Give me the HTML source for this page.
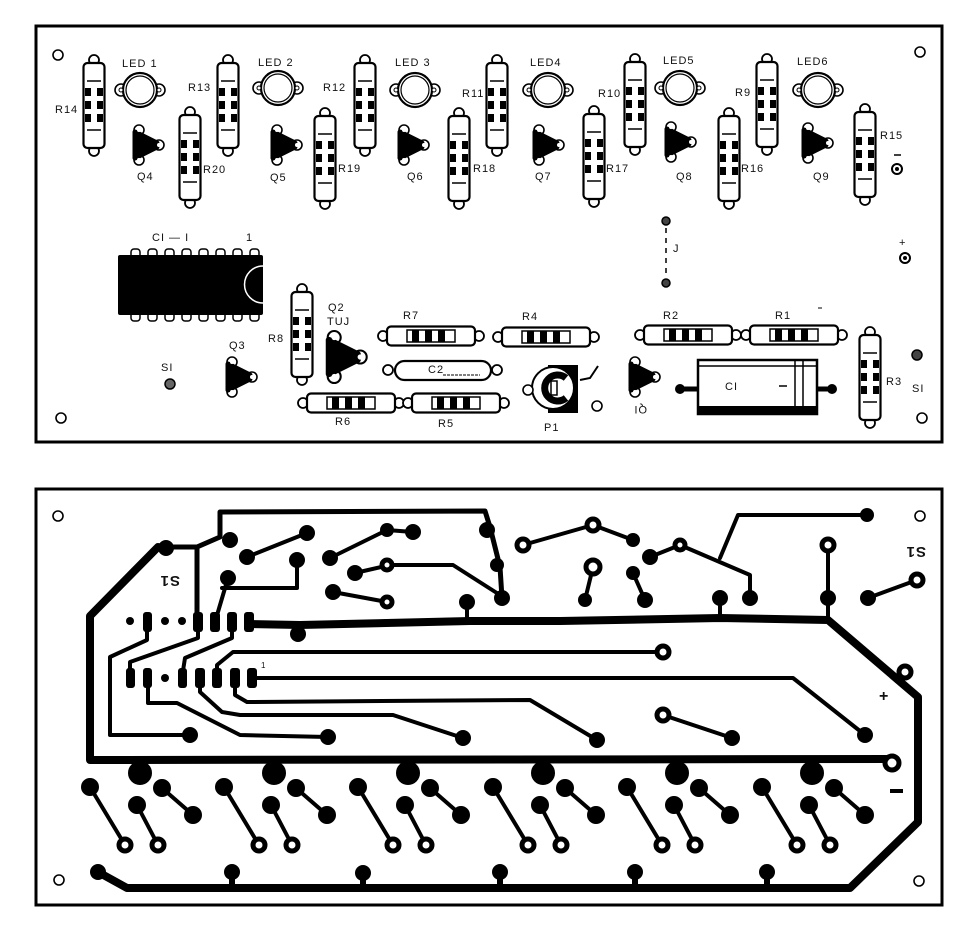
<!DOCTYPE html>
<html><head><meta charset="utf-8"><style>
html,body{margin:0;padding:0;background:#fff;}
svg{display:block}
text{font-family:"Liberation Sans",sans-serif;font-size:11px;fill:#111;letter-spacing:1px}
</style></head><body>
<svg width="968" height="932" viewBox="0 0 968 932" xmlns="http://www.w3.org/2000/svg">
<defs>
<g id="rv">
 <circle cx="0" cy="-3" r="5" fill="#fff" stroke="#000" stroke-width="1.8"/>
 <circle cx="0" cy="88" r="5" fill="#fff" stroke="#000" stroke-width="1.8"/>
 <rect x="-10.5" y="0" width="21" height="85" rx="4" fill="#fff" stroke="#000" stroke-width="2.2"/>
 <line x1="-7" y1="18" x2="7" y2="18" stroke="#000" stroke-width="1.5"/>
 <line x1="-7" y1="67" x2="7" y2="67" stroke="#000" stroke-width="1.5"/>
 <rect x="-9" y="25" width="6" height="8" fill="#000"/><rect x="3" y="25" width="6" height="8" fill="#000"/>
 <rect x="-9" y="38" width="6" height="8" fill="#000"/><rect x="3" y="38" width="6" height="8" fill="#000"/>
 <rect x="-9" y="51" width="6" height="8" fill="#000"/><rect x="3" y="51" width="6" height="8" fill="#000"/>
</g>
<g id="rh">
 <circle cx="-4" cy="0" r="5" fill="#fff" stroke="#000" stroke-width="1.8"/>
 <circle cx="92" cy="0" r="5" fill="#fff" stroke="#000" stroke-width="1.8"/>
 <rect x="0" y="-9.5" width="88" height="19" rx="4" fill="#fff" stroke="#000" stroke-width="2.2"/>
 <rect x="20" y="-6" width="48" height="12" fill="#fff" stroke="#000" stroke-width="1.5"/>
 <rect x="25" y="-6" width="7" height="12" fill="#000"/>
 <rect x="38" y="-6" width="7" height="12" fill="#000"/>
 <rect x="51" y="-6" width="7" height="12" fill="#000"/>
</g>
<g id="led">
 <circle cx="-19" cy="0" r="6" fill="#fff" stroke="#000" stroke-width="1.6"/>
 <circle cx="19" cy="0" r="6" fill="#fff" stroke="#000" stroke-width="1.6"/>
 <circle cx="0" cy="0" r="17" fill="#fff" stroke="#000" stroke-width="2.2"/>
 <circle cx="0" cy="0" r="14" fill="#fff" stroke="#000" stroke-width="1.2"/>
 <circle cx="-19" cy="0" r="2" fill="#fff" stroke="#000" stroke-width="1"/>
 <circle cx="19" cy="0" r="2" fill="#fff" stroke="#000" stroke-width="1"/>
</g>
<g id="tr">
 <circle cx="-6" cy="-15" r="5" fill="#fff" stroke="#000" stroke-width="1.6"/>
 <circle cx="-6" cy="15" r="5" fill="#fff" stroke="#000" stroke-width="1.6"/>
 <circle cx="14" cy="0" r="5" fill="#fff" stroke="#000" stroke-width="1.6"/>
 <path d="M-10,-13 L12,-2 L12,2 L-10,13 Z" fill="#000" stroke="#000" stroke-width="5" stroke-linejoin="round"/>
 <circle cx="-6" cy="-15" r="2" fill="#fff"/>
 <circle cx="-6" cy="15" r="2" fill="#fff"/>
 <circle cx="14" cy="0" r="2" fill="#fff"/>
</g>
</defs>

<!-- TOP BOARD -->
<rect x="36" y="26" width="906" height="416" fill="#fff" stroke="#000" stroke-width="3"/>
<g fill="#fff" stroke="#000" stroke-width="1.6">
<circle cx="58" cy="55" r="5"/><circle cx="920" cy="52" r="5"/><circle cx="61" cy="418" r="5"/><circle cx="922" cy="418" r="5"/>
</g>
<use href="#rv" x="94" y="63"/><use href="#rv" x="228" y="63"/><use href="#rv" x="365" y="63"/>
<use href="#rv" x="497" y="63"/><use href="#rv" x="635" y="62"/><use href="#rv" x="767" y="62"/>
<use href="#rv" x="190" y="115"/><use href="#rv" x="325" y="116"/><use href="#rv" x="459" y="116"/>
<use href="#rv" x="594" y="114"/><use href="#rv" x="729" y="116"/><use href="#rv" x="865" y="112"/>
<use href="#led" x="140" y="90"/><use href="#led" x="278" y="88"/><use href="#led" x="415" y="90"/>
<use href="#led" x="548" y="90"/><use href="#led" x="680" y="88"/><use href="#led" x="818" y="90"/>
<use href="#tr" x="145" y="145"/><use href="#tr" x="283" y="145"/><use href="#tr" x="410" y="145"/>
<use href="#tr" x="545" y="145"/><use href="#tr" x="677" y="142"/><use href="#tr" x="814" y="143"/>
<use href="#tr" x="238" y="377"/><use href="#tr" x="641" y="377"/>
<g transform="translate(342,357) scale(1.3)"><use href="#tr"/></g>
<text x="122" y="67">LED 1</text><text x="258" y="66">LED 2</text><text x="395" y="66">LED 3</text>
<text x="530" y="66">LED4</text><text x="663" y="64">LED5</text><text x="797" y="65">LED6</text>
<text x="55" y="113">R14</text><text x="188" y="91">R13</text><text x="323" y="91">R12</text><text x="462" y="97">R11</text>
<text x="598" y="97">R10</text><text x="735" y="96">R9</text>
<text x="203" y="173">R20</text><text x="338" y="172">R19</text><text x="473" y="172">R18</text>
<text x="606" y="172">R17</text><text x="741" y="172">R16</text><text x="880" y="139">R15</text>
<text x="137" y="180">Q4</text><text x="270" y="181">Q5</text><text x="407" y="180">Q6</text>
<text x="535" y="180">Q7</text><text x="676" y="180">Q8</text><text x="813" y="180">Q9</text>
<g fill="#fff" stroke="#000" stroke-width="1.5">
<rect x="131" y="249" width="9" height="10" rx="3"/><rect x="148" y="249" width="9" height="10" rx="3"/><rect x="165" y="249" width="9" height="10" rx="3"/><rect x="182" y="249" width="9" height="10" rx="3"/><rect x="199" y="249" width="9" height="10" rx="3"/><rect x="216" y="249" width="9" height="10" rx="3"/><rect x="233" y="249" width="9" height="10" rx="3"/><rect x="250" y="249" width="9" height="10" rx="3"/>
<rect x="131" y="311" width="9" height="10" rx="3"/><rect x="148" y="311" width="9" height="10" rx="3"/><rect x="165" y="311" width="9" height="10" rx="3"/><rect x="182" y="311" width="9" height="10" rx="3"/><rect x="199" y="311" width="9" height="10" rx="3"/><rect x="216" y="311" width="9" height="10" rx="3"/><rect x="233" y="311" width="9" height="10" rx="3"/><rect x="250" y="311" width="9" height="10" rx="3"/>
</g>
<rect x="118" y="255" width="145" height="60" rx="2" fill="#000"/>
<path d="M263,266 A18,18 0 0 0 263,303" fill="none" stroke="#fff" stroke-width="1.5"/>
<text x="152" y="241">CI — I</text><text x="246" y="241">1</text>
<text x="161" y="371">SI</text>
<circle cx="170" cy="384" r="5" fill="#666" stroke="#000" stroke-width="1.5"/>
<text x="229" y="349">Q3</text>
<use href="#rv" x="302" y="292"/>
<text x="268" y="342">R8</text>
<text x="328" y="311">Q2</text><text x="327" y="325">TUJ</text>
<use href="#rh" x="387" y="336"/><text x="403" y="319">R7</text>
<use href="#rh" x="502" y="337"/><text x="522" y="320">R4</text>
<use href="#rh" x="307" y="403"/><text x="335" y="425">R6</text>
<use href="#rh" x="412" y="403"/><text x="438" y="427">R5</text>
<use href="#rh" x="644" y="335"/><text x="663" y="319">R2</text>
<use href="#rh" x="750" y="335"/><text x="775" y="319">R1</text>
<circle cx="388" cy="370" r="5" fill="#fff" stroke="#000" stroke-width="1.8"/>
<circle cx="497" cy="370" r="5" fill="#fff" stroke="#000" stroke-width="1.8"/>
<rect x="395" y="361" width="96" height="19" rx="9.5" fill="#fff" stroke="#000" stroke-width="2.2"/>
<text x="428" y="373">C2</text>
<line x1="443" y1="375" x2="480" y2="375" stroke="#000" stroke-width="1" stroke-dasharray="3,1"/>
<rect x="548" y="365" width="30" height="48" fill="#000"/>
<circle cx="553" cy="388" r="21" fill="#fff" stroke="#000" stroke-width="2"/>
<path d="M566,378 A13,13 0 1 0 566,398" fill="none" stroke="#000" stroke-width="7"/>
<rect x="551" y="381" width="6" height="14" fill="#fff" stroke="#000" stroke-width="1.5"/>
<circle cx="528" cy="390" r="5" fill="#fff" stroke="#000" stroke-width="1.6"/>
<circle cx="597" cy="406" r="5" fill="#fff" stroke="#000" stroke-width="1.6"/>
<path d="M580,380 L590,378 L598,366" fill="none" stroke="#000" stroke-width="2"/>
<text x="544" y="431">P1</text>
<text x="635" y="412" transform="rotate(180 641 409)">QI</text>
<line x1="678" y1="389" x2="835" y2="389" stroke="#000" stroke-width="5"/>
<circle cx="680" cy="389" r="5" fill="#000"/><circle cx="832" cy="389" r="5" fill="#000"/>
<rect x="698" y="360" width="119" height="54" fill="#fff" stroke="#000" stroke-width="2.5"/>
<line x1="698" y1="366" x2="817" y2="366" stroke="#000" stroke-width="1.5"/>
<rect x="698" y="406" width="119" height="8" fill="#000"/>
<line x1="795" y1="360" x2="795" y2="414" stroke="#000" stroke-width="1.5"/>
<line x1="803" y1="360" x2="803" y2="414" stroke="#000" stroke-width="1.5"/>
<text x="725" y="390">CI</text><line x1="779" y1="386" x2="787" y2="386" stroke="#000" stroke-width="1.5"/>
<use href="#rv" x="870" y="335"/><text x="886" y="385">R3</text>
<circle cx="917" cy="355" r="5" fill="#444" stroke="#000" stroke-width="1.5"/>
<text x="912" y="392">SI</text>
<text x="899" y="246">+</text><circle cx="905" cy="258" r="5" fill="#fff" stroke="#000" stroke-width="2"/><circle cx="905" cy="258" r="2" fill="#000"/>
<line x1="894" y1="155" x2="901" y2="155" stroke="#000" stroke-width="1.5"/>
<circle cx="897" cy="169" r="5" fill="#fff" stroke="#000" stroke-width="2"/><circle cx="897" cy="169" r="2" fill="#000"/>
<circle cx="666" cy="221" r="4" fill="#444" stroke="#000" stroke-width="1.5"/>
<circle cx="666" cy="283" r="4" fill="#444" stroke="#000" stroke-width="1.5"/>
<line x1="666" y1="228" x2="666" y2="277" stroke="#000" stroke-width="1.5" stroke-dasharray="5,5"/>
<text x="673" y="252">J</text>
<line x1="818" y1="308" x2="822" y2="308" stroke="#000" stroke-width="1"/>

<!-- BOTTOM BOARD -->
<rect x="36" y="489" width="906" height="416" fill="#fff" stroke="#000" stroke-width="3"/>
<g fill="#fff" stroke="#000" stroke-width="1.6">
<circle cx="58" cy="516" r="5"/><circle cx="59" cy="880" r="5"/><circle cx="920" cy="516" r="5"/><circle cx="919" cy="881" r="5"/>
</g>
<g fill="none" stroke="#000" stroke-linecap="round" stroke-linejoin="round">
 <path d="M250,624 L300,625 L470,621 L560,621 L720,618 L828,620 L918,697 L918,822 L850,888 L127,888 L98,872" stroke-width="8"/>
 <path d="M232,872 L232,888 M363,873 L363,888 M500,872 L500,888 M635,872 L635,888 M767,872 L767,888" stroke-width="6"/>
 <path d="M158,547 L90,616 L90,760 L890,759" stroke-width="8"/>
 <path d="M158,547 L197,547 L220,537 L220,512 L485,511 L490,527 L500,567 L502,598" stroke-width="5"/>
 <path d="M197,547 L197,620" stroke-width="5"/>
 <path d="M130,678 L130,662 L198,638 L198,622" stroke-width="4"/>
 <path d="M147,622 L147,640 L110,657 L110,735 L190,735" stroke-width="4"/>
 <path d="M232,622 L232,638 L185,658 L182,677" stroke-width="4"/>
 <path d="M215,622 L228,578" stroke-width="4"/>
 <path d="M222,588 L297,588 L297,560" stroke-width="4"/>
 <path d="M148,678 L148,703 L177,703 L240,735 L328,737" stroke-width="4"/>
 <path d="M200,678 L200,692 L222,712 L240,715 L393,715 L463,738" stroke-width="4"/>
 <path d="M235,678 L235,695 L247,702 L530,700 L597,740" stroke-width="4"/>
 <path d="M217,678 L217,665 L233,652 L663,652" stroke-width="4"/>
 <path d="M252,678 L793,678 L865,735" stroke-width="4"/>
 <path d="M663,715 L732,738" stroke-width="4"/>
 <path d="M247,557 L307,533" stroke-width="4"/>
 <path d="M330,558 L387,530 L413,532" stroke-width="4"/>
 <path d="M355,573 L390,565 L453,565 L500,595" stroke-width="4"/>
 <path d="M333,592 L387,602" stroke-width="4"/>
 <path d="M467,602 L467,622" stroke-width="4"/>
 <path d="M523,545 L593,525 L633,540" stroke-width="4"/>
 <path d="M593,567 L585,600" stroke-width="4"/>
 <path d="M633,573 L645,600" stroke-width="4"/>
 <path d="M650,557 L680,545 L750,575 L750,598" stroke-width="4"/>
 <path d="M720,558 L738,515 L867,515" stroke-width="4"/>
 <path d="M828,545 L828,620" stroke-width="4"/>
 <path d="M720,598 L720,618" stroke-width="4"/>
 <path d="M868,598 L917,580" stroke-width="4"/>
</g>
<g id="grp" fill="none" stroke="#000" stroke-width="4" stroke-linecap="round">
 <path d="M90,787 L125,845"/><path d="M137,805 L158,845"/><path d="M162,788 L193,815"/>
 <circle cx="90" cy="787" r="7" fill="#000"/><circle cx="137" cy="805" r="7" fill="#000"/><circle cx="162" cy="788" r="7" fill="#000"/><circle cx="193" cy="815" r="7" fill="#000"/>
 <circle cx="125" cy="845" r="6" fill="#fff" stroke-width="5"/><circle cx="158" cy="845" r="6" fill="#fff" stroke-width="5"/>
 <circle cx="140" cy="773" r="10" fill="#000"/>
</g>
<use href="#grp" x="134"/><use href="#grp" x="268"/><use href="#grp" x="403"/><use href="#grp" x="537"/><use href="#grp" x="672"/>
<g fill="#000">
 <circle cx="98" cy="872" r="8"/><circle cx="232" cy="872" r="8"/><circle cx="363" cy="873" r="8"/><circle cx="500" cy="872" r="8"/><circle cx="635" cy="872" r="8"/><circle cx="767" cy="872" r="8"/>
 <circle cx="166" cy="548" r="8"/><circle cx="230" cy="540" r="8"/><circle cx="228" cy="578" r="8"/><circle cx="297" cy="560" r="8"/>
 <circle cx="247" cy="557" r="8"/><circle cx="307" cy="533" r="8"/><circle cx="330" cy="558" r="8"/><circle cx="387" cy="530" r="7"/><circle cx="413" cy="532" r="8"/>
 <circle cx="355" cy="573" r="8"/><circle cx="333" cy="592" r="8"/><circle cx="298" cy="634" r="8"/><circle cx="467" cy="602" r="8"/>
 <circle cx="487" cy="530" r="8"/><circle cx="497" cy="565" r="7"/><circle cx="502" cy="598" r="8"/>
 <circle cx="190" cy="735" r="8"/><circle cx="328" cy="737" r="8"/><circle cx="463" cy="738" r="8"/><circle cx="597" cy="740" r="8"/><circle cx="732" cy="738" r="8"/><circle cx="865" cy="735" r="8"/>
 <circle cx="633" cy="540" r="7"/><circle cx="585" cy="600" r="7"/><circle cx="633" cy="573" r="7"/><circle cx="645" cy="600" r="8"/>
 <circle cx="650" cy="557" r="8"/><circle cx="750" cy="598" r="8"/><circle cx="720" cy="598" r="8"/><circle cx="828" cy="598" r="8"/><circle cx="867" cy="515" r="7"/><circle cx="868" cy="598" r="8"/>
 <rect x="143" y="612" width="9" height="20" rx="3"/><rect x="193" y="612" width="10" height="20" rx="3"/><rect x="210" y="612" width="10" height="20" rx="3"/><rect x="227" y="612" width="10" height="20" rx="3"/><rect x="244" y="612" width="10" height="20" rx="3"/>
 <circle cx="130" cy="621" r="4"/><circle cx="165" cy="621" r="4"/><circle cx="182" cy="621" r="4"/>
 <rect x="126" y="668" width="9" height="20" rx="3"/><rect x="143" y="668" width="9" height="20" rx="3"/><rect x="178" y="668" width="9" height="20" rx="3"/><rect x="195" y="668" width="10" height="20" rx="3"/><rect x="212" y="668" width="10" height="20" rx="3"/><rect x="230" y="668" width="10" height="20" rx="3"/><rect x="247" y="668" width="10" height="20" rx="3"/>
 <circle cx="165" cy="678" r="4"/>
</g>
<g fill="#fff" stroke="#000" stroke-width="5">
 <circle cx="387" cy="565" r="5"/><circle cx="387" cy="602" r="5"/><circle cx="593" cy="525" r="6"/><circle cx="523" cy="545" r="6"/><circle cx="593" cy="567" r="7"/>
 <circle cx="680" cy="545" r="5"/><circle cx="828" cy="545" r="6"/><circle cx="917" cy="580" r="6"/><circle cx="905" cy="672" r="6"/>
 <circle cx="663" cy="652" r="6"/><circle cx="663" cy="715" r="6"/><circle cx="892" cy="763" r="7"/>
</g>
<text x="152" y="588" transform="rotate(180 166 582)" style="font-size:15px;font-weight:bold">S1</text>
<text x="898" y="559" transform="rotate(180 912 553)" style="font-size:15px;font-weight:bold">S1</text>
<text x="261" y="668" style="font-size:8px">1</text>
<text x="879" y="701" style="font-size:16px;font-weight:bold">+</text>
<rect x="890" y="789" width="13" height="4" fill="#000"/>
</svg>
</body></html>
